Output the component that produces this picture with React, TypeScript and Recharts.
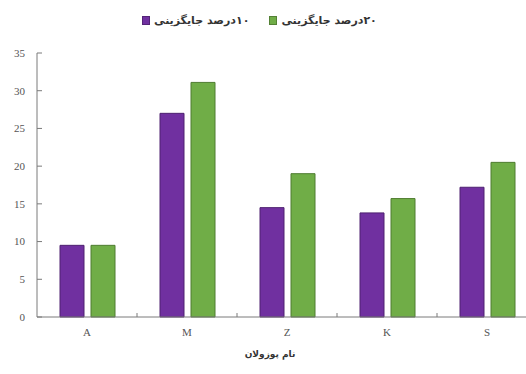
import { BarChart, Bar, XAxis, YAxis } from 'recharts'

const pozzolans = ['A', 'M', 'Z', 'K', 'S']
const replace10 = [9.5, 27, 14.5, 13.8, 17.2]
const replace20 = [9.5, 31.1, 19, 15.7, 20.5]
const yTicks = [0, 5, 10, 15, 20, 25, 30, 35]

const LABEL_10 = '۱۰درصد جایگزینی'
const LABEL_20 = '۲۰درصد جایگزینی'
const AXIS_TITLE = 'نام پوزولان'

const PURPLE = '#7030a0'
const PURPLE_EDGE = '#4e2170'
const GREEN = '#70ad47'
const GREEN_EDGE = '#4f7c31'
const AXIS = '#7a7a7a'
const TEXT = '#555'
const SERIF = '"Liberation Serif", "Times New Roman", serif'
const PERSIAN = '"DejaVu Sans", sans-serif'

const data = pozzolans.map((name, i) => ({ name, p10: replace10[i], p20: replace20[i] }))

// category label plus a short inward tick on the boundary to the next category
function CategoryTick(props: any) {
  const { x, y, payload, index } = props
  const half = payload?.offset ?? 0
  return (
    <g>
      <text x={x} y={y + 19} textAnchor="middle" fontSize={11} fill={TEXT} fontFamily={SERIF}>
        {payload.value}
      </text>
      {index < pozzolans.length - 1 && (
        <line x1={x + half} x2={x + half} y1={y - 4} y2={y} stroke={AXIS} strokeWidth={1} />
      )}
    </g>
  )
}

function LegendItem({ color, label }: { color: string; label: string }) {
  return (
    <div style={{ display: 'flex', alignItems: 'center', gap: 4 }}>
      <span style={{ width: 6, height: 7, background: color, border: '1px solid rgba(0,0,0,0.25)' }} />
      <span dir="rtl" style={{ fontFamily: PERSIAN, fontSize: 11, fontWeight: 'bold', color: '#333' }}>
        {label}
      </span>
    </div>
  )
}

export default function App() {
  return (
    <div
      style={{
        position: 'absolute',
        left: 0,
        top: 0,
        width: 526,
        height: 374,
        overflow: 'hidden',
        background: '#fff',
      }}
    >
      <div
        style={{
          position: 'absolute',
          top: 14,
          left: 142,
          display: 'flex',
          gap: 20,
        }}
      >
        <LegendItem color={PURPLE} label={LABEL_10} />
        <LegendItem color={GREEN} label={LABEL_20} />
      </div>
      <div
        dir="rtl"
        style={{
          position: 'absolute',
          top: 349,
          left: 220,
          width: 100,
          textAlign: 'center',
          fontFamily: PERSIAN,
          fontSize: 9,
          fontWeight: 'bold',
          color: '#333',
        }}
      >
        {AXIS_TITLE}
      </div>
      <BarChart
        width={545}
        height={374}
        data={data}
        margin={{ top: 53, right: 8, left: 7, bottom: 37 }}
        barCategoryGap="23%"
        barGap={7}
      >
        <XAxis
          dataKey="name"
          height={20}
          axisLine={{ stroke: AXIS }}
          tickLine={false}
          tickSize={0}
          tickMargin={0}
          tick={<CategoryTick />}
          interval={0}
        />
        <YAxis
          width={30}
          domain={[0, 35]}
          ticks={yTicks}
          interval={0}
          axisLine={{ stroke: AXIS }}
          tickLine={{ stroke: AXIS }}
          tickSize={-5}
          tickMargin={17}
          tick={{ fontSize: 11, fill: TEXT, fontFamily: SERIF }}
        />
        <Bar dataKey="p10" name={LABEL_10} fill={PURPLE} stroke={PURPLE_EDGE} strokeWidth={1} isAnimationActive={false} />
        <Bar dataKey="p20" name={LABEL_20} fill={GREEN} stroke={GREEN_EDGE} strokeWidth={1} isAnimationActive={false} />
      </BarChart>
    </div>
  )
}
